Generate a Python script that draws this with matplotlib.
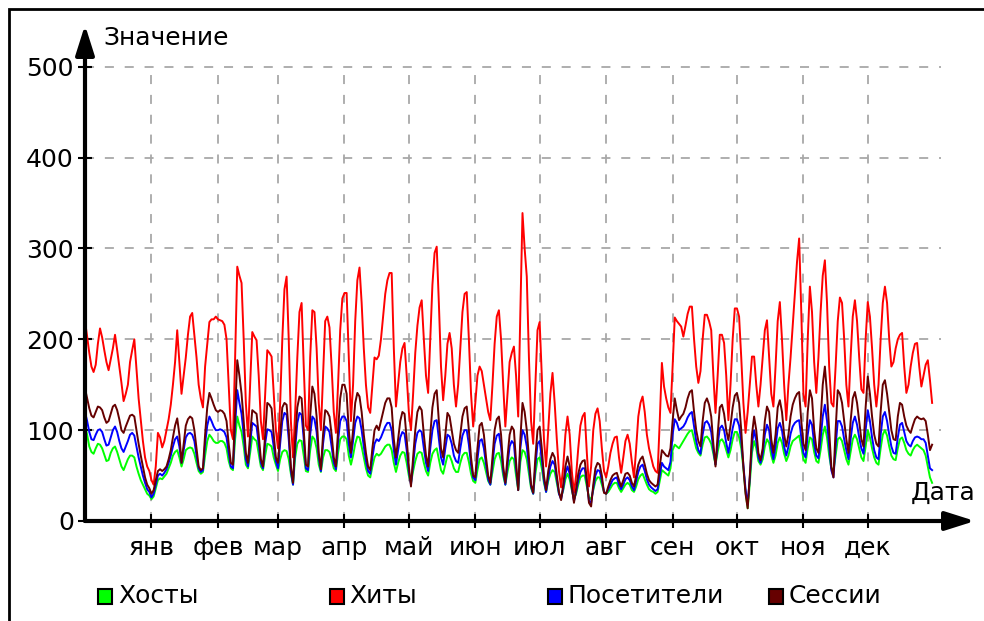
import matplotlib
matplotlib.use("Agg")
import matplotlib.pyplot as plt
from matplotlib.patches import Rectangle
import pandas as pd

start_date = "2008-12-01"
month_labels = ["янв", "фев", "мар", "апр", "май", "июн",
                "июл", "авг", "сен", "окт", "ноя", "дек"]
y_ticks = [0, 100, 200, 300, 400, 500]

# daily values, 2008-12-01 .. 2009-12-31
hits = [
    220, 203, 185, 170, 164, 172, 195, 212, 202, 188, 175, 166, 178, 190, 205, 188,
    170, 152, 132, 140, 150, 175, 188, 200, 168, 135, 112, 88, 70, 60, 55,
    45, 40, 60, 97, 92, 81, 88, 100, 112, 128, 150, 175, 210, 175, 140, 160,
    180, 205, 225, 229, 205, 180, 150, 135, 125, 170, 195, 219, 222, 222, 225,
    222, 221, 220, 216, 200, 150, 100, 90, 180, 280, 270, 262, 200, 130, 93, 150,
    208, 203, 199, 160, 110, 90, 140, 188, 185, 181, 140, 100,
    80, 130, 200, 255, 269, 200, 110, 70, 120, 180, 230, 240, 170, 105, 100, 180,
    232, 230, 190, 130, 100, 160, 220, 225, 213, 170, 120, 97, 150, 210, 245,
    251, 251, 180, 110, 150, 220, 265, 279, 240, 190, 150, 125, 119, 150, 180, 178,
    182, 200, 225, 250, 265, 273, 273, 190, 126, 150, 175, 190, 196, 160,
    120, 100, 140, 185, 215, 235, 243, 200, 160, 141, 200, 260, 295, 302, 240, 170,
    133, 160, 195, 207, 190, 150, 126, 150, 190, 230, 250, 252, 200, 140, 104,
    130, 160, 170, 165, 150, 135, 120, 111, 150, 195, 225, 232, 200, 150, 104, 140,
    175, 185, 192, 160, 115, 230, 339, 300, 269, 180, 110, 85, 150, 210,
    219, 160, 90, 60, 100, 140, 163, 130, 90, 55, 37, 60, 95, 115, 95, 55,
    31, 50, 80, 105, 115, 119, 75, 38, 60, 100, 118, 124, 110, 80, 55,
    48, 60, 75, 85, 92, 93, 70, 53, 70, 88, 95, 85, 65, 48, 80, 115,
    130, 137, 120, 95, 80, 70, 60, 55, 53, 110, 174, 148, 135, 125, 119,
    170, 224, 220, 217, 214, 203, 215, 228, 236, 236, 200, 170, 152, 165, 200, 227,
    227, 220, 210, 160, 119, 160, 205, 205, 196, 160, 111, 150, 200, 234,
    234, 225, 180, 130, 97, 120, 150, 181, 181, 150, 126, 150, 180, 210, 221, 180,
    140, 126, 170, 220, 241, 200, 150, 111, 150, 180, 215, 250, 285, 311, 230,
    140, 126, 200, 258, 230, 175, 141, 180, 230, 270, 287, 240, 170, 130, 126, 170,
    220, 246, 240, 200, 150, 126, 180, 225, 243, 220, 180, 145, 141, 200,
    241, 225, 190, 150, 126, 150, 200, 240, 258, 240, 200, 170, 175, 190, 200, 205,
    207, 170, 141, 150, 170, 185, 195, 196, 170, 148, 160, 172, 177, 155, 130,
]

sessions = [
    146, 135, 124, 116, 114, 120, 126, 125, 122, 114, 108, 110, 118, 126, 128, 122,
    112, 100, 97, 104, 110, 116, 117, 115, 100, 85, 72, 60, 48, 40, 36,
    30, 34, 45, 55, 57, 55, 57, 60, 68, 78, 92, 105, 113, 95, 64, 85,
    105, 112, 115, 113, 100, 80, 60, 56, 58, 95, 125, 141, 135, 128, 122,
    120, 122, 121, 118, 110, 85, 64, 62, 120, 177, 160, 140, 110, 75, 64, 95,
    122, 120, 118, 95, 68, 60, 95, 130, 128, 124, 95, 70,
    64, 95, 125, 130, 128, 100, 60, 42, 90, 125, 137, 135, 100, 62, 60, 115,
    148, 140, 115, 75, 57, 95, 122, 120, 115, 95, 70, 60, 100, 135, 150,
    150, 140, 100, 75, 100, 130, 141, 137, 120, 95, 75, 60, 56, 80, 100, 105,
    100, 110, 120, 130, 135, 135, 125, 90, 70, 90, 110, 120, 118, 90,
    60, 38, 70, 100, 120, 126, 122, 95, 72, 60, 95, 125, 140, 144, 110, 80,
    70, 95, 119, 115, 100, 85, 78, 75, 95, 115, 124, 126, 100, 70, 50,
    48, 80, 105, 108, 95, 70, 50, 42, 70, 100, 112, 115, 95, 60, 42, 70,
    95, 104, 100, 65, 34, 90, 130, 120, 100, 70, 40, 31, 70, 100,
    104, 80, 50, 34, 55, 68, 75, 70, 50, 32, 23, 40, 60, 71, 60, 38,
    20, 35, 52, 62, 66, 67, 45, 20, 16, 40, 58, 64, 62, 50, 31,
    30, 38, 45, 50, 52, 53, 45, 38, 45, 52, 53, 50, 42, 38, 50, 62,
    68, 71, 62, 52, 45, 42, 40, 38, 40, 60, 78, 75, 72, 71, 80,
    110, 135, 122, 111, 115, 118, 125, 135, 142, 144, 120, 100, 88, 82, 110, 130,
    135, 128, 115, 85, 60, 95, 125, 128, 118, 100, 89, 105, 125, 138,
    141, 130, 100, 60, 30, 14, 50, 95, 115, 100, 75, 67, 80, 110, 126, 120,
    90, 75, 95, 125, 133, 120, 95, 82, 95, 115, 128, 135, 140, 142, 110,
    85, 78, 120, 144, 135, 100, 80, 75, 110, 150, 170, 140, 100, 60, 48, 100,
    144, 140, 130, 110, 90, 75, 110, 135, 142, 130, 110, 90, 82, 125,
    159, 140, 115, 95, 85, 82, 120, 150, 155, 140, 120, 100, 90, 89, 115, 130,
    128, 115, 105, 100, 97, 105, 112, 115, 113, 112, 113, 110, 95, 78, 84,
]

visitors = [
    120, 110, 98, 90, 89, 95, 100, 101, 98, 90, 83, 84, 92, 100, 104, 98,
    88, 80, 76, 82, 88, 95, 97, 94, 82, 70, 60, 50, 42, 35, 32,
    26, 30, 40, 50, 52, 50, 53, 57, 64, 72, 82, 90, 93, 82, 64, 78,
    92, 96, 97, 95, 88, 72, 58, 54, 56, 85, 105, 115, 110, 104, 100,
    100, 101, 100, 98, 92, 75, 60, 58, 105, 144, 130, 118, 95, 68, 60, 85,
    108, 106, 104, 85, 64, 58, 85, 101, 100, 98, 82, 66,
    58, 85, 110, 119, 117, 90, 55, 40, 80, 108, 119, 117, 90, 58, 56, 95,
    115, 112, 98, 70, 55, 85, 104, 102, 98, 82, 64, 57, 88, 110, 115,
    115, 110, 85, 70, 88, 108, 115, 113, 100, 82, 66, 55, 52, 70, 85, 90,
    88, 92, 98, 104, 108, 108, 100, 78, 62, 78, 92, 98, 96, 78,
    55, 40, 62, 85, 97, 100, 98, 80, 64, 55, 80, 100, 110, 111, 90, 70,
    62, 80, 95, 93, 85, 72, 66, 64, 80, 94, 100, 100, 84, 62, 48,
    45, 68, 88, 90, 80, 62, 46, 40, 62, 85, 94, 96, 82, 55, 40, 62,
    82, 88, 85, 58, 34, 80, 100, 95, 82, 60, 38, 30, 60, 85,
    88, 68, 45, 32, 48, 60, 66, 62, 46, 30, 24, 36, 52, 60, 52, 36,
    22, 32, 45, 54, 58, 58, 42, 22, 20, 36, 50, 56, 55, 45, 32,
    30, 35, 40, 45, 47, 48, 40, 35, 40, 46, 48, 45, 38, 34, 44, 54,
    60, 62, 55, 46, 40, 37, 35, 33, 35, 50, 64, 60, 58, 56, 65,
    95, 112, 108, 100, 102, 104, 108, 114, 118, 120, 104, 88, 78, 74, 95, 108,
    110, 106, 98, 78, 62, 84, 102, 105, 100, 86, 75, 88, 102, 112,
    112, 105, 88, 62, 35, 18, 48, 85, 100, 88, 70, 64, 74, 95, 106, 100,
    80, 68, 82, 102, 108, 100, 82, 72, 82, 96, 104, 108, 110, 111, 92,
    75, 70, 95, 111, 106, 85, 72, 69, 90, 115, 128, 110, 82, 56, 48, 82,
    110, 110, 104, 90, 78, 68, 90, 108, 115, 106, 92, 80, 74, 100,
    122, 110, 92, 78, 70, 68, 95, 115, 120, 110, 95, 82, 75, 74, 92, 106,
    108, 98, 88, 84, 82, 88, 92, 93, 92, 90, 90, 86, 72, 58, 56,
]

hosts = [
    105, 95, 82, 76, 74, 80, 85, 84, 80, 73, 66, 67, 75, 80, 82, 76,
    68, 60, 56, 62, 68, 72, 72, 70, 60, 52, 45, 40, 35, 30, 28,
    24, 27, 36, 45, 47, 46, 49, 52, 58, 64, 72, 76, 78, 70, 60, 68,
    78, 80, 81, 80, 74, 64, 55, 52, 54, 72, 88, 95, 92, 88, 86,
    86, 88, 88, 86, 80, 66, 58, 56, 90, 115, 105, 98, 82, 62, 58, 75,
    93, 90, 88, 74, 60, 56, 72, 85, 84, 82, 70, 62,
    55, 68, 76, 78, 77, 68, 52, 40, 70, 85, 89, 88, 72, 55, 54, 78,
    93, 90, 80, 62, 54, 70, 78, 78, 76, 68, 58, 55, 75, 90, 93,
    93, 90, 72, 62, 72, 85, 93, 92, 82, 70, 58, 50, 48, 60, 70, 74,
    72, 74, 78, 82, 84, 84, 78, 64, 54, 64, 72, 76, 75, 64,
    50, 42, 55, 66, 74, 76, 75, 64, 55, 50, 64, 74, 78, 80, 68, 56,
    52, 62, 72, 72, 66, 58, 54, 54, 64, 72, 75, 75, 65, 52, 44,
    42, 56, 68, 70, 64, 54, 44, 40, 54, 68, 74, 75, 66, 50, 40, 54,
    66, 70, 68, 50, 34, 65, 78, 76, 68, 52, 36, 30, 52, 68,
    70, 58, 42, 32, 44, 52, 56, 54, 42, 30, 26, 34, 46, 52, 46, 34,
    24, 30, 40, 48, 50, 50, 38, 26, 24, 34, 44, 48, 48, 40, 32,
    30, 32, 36, 40, 42, 42, 36, 32, 36, 40, 42, 40, 34, 32, 38, 46,
    50, 52, 46, 40, 35, 33, 32, 30, 32, 44, 56, 54, 52, 50, 58,
    78, 84, 82, 80, 84, 88, 92, 96, 99, 100, 90, 80, 75, 72, 84, 92,
    93, 90, 85, 74, 62, 76, 88, 90, 86, 78, 70, 78, 90, 98,
    98, 92, 80, 58, 32, 14, 42, 75, 88, 80, 66, 62, 68, 82, 90, 86,
    72, 64, 72, 86, 92, 86, 74, 66, 72, 82, 88, 90, 92, 94, 82,
    68, 64, 80, 92, 90, 76, 66, 64, 78, 95, 104, 92, 72, 58, 55, 72,
    90, 92, 88, 78, 68, 62, 76, 90, 95, 90, 80, 70, 66, 82,
    100, 92, 80, 70, 64, 62, 80, 95, 100, 94, 82, 72, 68, 67, 80, 90,
    92, 86, 78, 74, 72, 78, 82, 84, 82, 80, 78, 72, 60, 48, 42,
]

series = [
    ("Хосты", hosts, "#00ff00"),
    ("Хиты", hits, "#ff0000"),
    ("Посетители", visitors, "#0000ff"),
    ("Сессии", sessions, "#660000"),
]

dates = pd.date_range(start_date, periods=len(hits), freq="D")
month_starts = pd.date_range("2009-01-01", periods=12, freq="MS")

W, H = 984, 621
plt.rcParams["font.family"] = ["DejaVu Sans"]
fig = plt.figure(figsize=(W / 100, H / 100), dpi=100)
ax = fig.add_axes([85 / W, 100 / H, 890 / W, 496 / H])

x0 = dates[0]
ax.set_xlim(x0, x0 + pd.Timedelta(days=415))
ax.set_ylim(0, 546)

# dashed grid, stopping short of the arrows
grid_kw = dict(color="#a8a8a8", lw=1.3, linestyles=(0, (5, 6)), zorder=1)
ax.hlines(y_ticks[1:], x0, x0 + pd.Timedelta(days=399), **grid_kw)
ax.vlines(month_starts, 0, y_ticks[-1], **grid_kw)

for name, vals, col in series:
    ax.plot(dates, vals, color=col, lw=1.4, zorder=3)

for s in ax.spines.values():
    s.set_visible(False)

arrow_kw = dict(arrowstyle="-|>,head_length=1.2,head_width=0.38", color="black",
                lw=3, shrinkA=0, shrinkB=0, mutation_scale=15)
ax.annotate("", xy=(1, 0), xytext=(0, 0), xycoords="axes fraction", arrowprops=arrow_kw)
ax.annotate("", xy=(0, 1), xytext=(0, 0), xycoords="axes fraction", arrowprops=arrow_kw)

ax.set_yticks(y_ticks)
ax.set_yticklabels([str(v) for v in y_ticks])
ax.set_xticks(month_starts)
ax.set_xticklabels(month_labels)
ax.tick_params(direction="inout", length=10, width=1.5, labelsize=18, colors="black")
ax.tick_params(axis="y", pad=3)
ax.tick_params(axis="x", pad=6)

fig.text(103 / W, 1 - 38 / H, "Значение", fontsize=18, va="center", ha="left")
fig.text(976 / W, 1 - 493 / H, "Дата", fontsize=18, va="center", ha="right")

# legend
legend_x = [(98, 118), (330, 349), (548, 568), (769, 789)]
for (sx, tx), (name, vals, col) in zip(legend_x, series):
    fig.patches.append(Rectangle((sx / W, 1 - 604 / H), 14 / W, 15 / H,
                                 transform=fig.transFigure, facecolor=col,
                                 edgecolor="black", lw=1.5))
    fig.text(tx / W, 1 - 596 / H, name, fontsize=18, va="center", ha="left")

# outer frame
fig.patches.append(Rectangle((9 / W, -0.01), 1.0, 1 - 9 / H + 0.01,
                             transform=fig.transFigure, fill=False,
                             edgecolor="black", lw=2))

fig.savefig("out.png", dpi=100)
